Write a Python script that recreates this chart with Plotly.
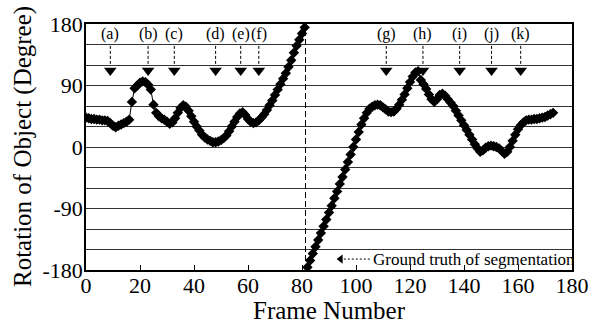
import plotly.graph_objects as go

# ---------------- data ----------------
frame_start = 0
rotation_deg = [
    # frames 0-16
    43, 42, 41, 41, 40, 40, 39, 39, 38, 35, 31, 29, 31, 33, 35, 37, 40,
    # 17-31
    66, 86, 90, 94, 96, 95, 91, 84, 62, 50, 45, 42, 40, 37, 34,
    # 32-47
    36, 42, 50, 57, 61, 59, 53, 45, 37, 30, 24, 18, 14, 11, 9, 7,
    # 48-61
    7, 8, 10, 13, 17, 23, 30, 37, 44, 49, 51, 47, 41, 37,
    # 62-81
    35, 36, 39, 43, 48, 54, 61, 68, 76, 84, 92, 100, 108, 117, 127, 138, 148, 157, 166, 175,
    # 82-99
    -176, -166, -156, -146, -136, -126, -116, -106, -96, -86, -75, -65, -54, -44, -33, -22, -11, 0,
    # 100-112
    11, 22, 33, 42, 50, 56, 59, 61, 62, 61, 58, 55, 52,
    # 113-123
    51, 52, 56, 62, 69, 77, 86, 95, 103, 109, 111,
    # 124-146
    98, 92, 85, 77, 70, 66, 70, 76, 78, 75, 70, 65, 60, 53, 46, 39, 32, 25, 18, 11, 4, -2, -7,
    # 147-157
    -5, -1, 1, 2, 1, 0, -2, -6, -10, -7, 0,
    # 158-173
    9, 18, 26, 32, 36, 39, 40, 40, 41, 41, 42, 43, 44, 46, 48, 50,
]
frames = list(range(frame_start, frame_start + len(rotation_deg)))

segmentation_frame = 81.3          # ground truth of segmentation
event_labels = ["(a)", "(b)", "(c)", "(d)", "(e)", "(f)", "(g)", "(h)", "(i)", "(j)", "(k)"]
event_frames = [9, 23, 32.7, 48, 57.3, 64, 111.2, 124.8, 138.4, 150.2, 161]

x_ticks = list(range(0, 181, 20))
y_grid = list(range(-180, 181, 30))
y_labels = {-180: "-180", -90: "-90", 0: "0", 90: "90", 180: "180"}

FONT = "Liberation Serif, Times New Roman, serif"

# split the wrapped series at the segmentation frame (no connecting line across the wrap)
fx, fy = [], []
for f, v in zip(frames, rotation_deg):
    if fx and fx[-1] is not None and fx[-1] < segmentation_frame <= f:
        fx.append(None)
        fy.append(None)
    fx.append(f)
    fy.append(v)

fig = go.Figure()

fig.add_trace(go.Scatter(
    x=fx, y=fy, mode="lines+markers",
    line=dict(color="black", width=1),
    marker=dict(symbol="diamond", size=8, color="black"),
    connectgaps=False, showlegend=False, hoverinfo="skip",
))

# event arrows: dashed stems + triangle heads
label_y, stem_top, stem_bot, head_y = 166, 148, 121, 112
shapes = []
for f in event_frames:
    shapes.append(dict(type="line", xref="x", yref="y", x0=f, x1=f, y0=stem_top, y1=stem_bot,
                       line=dict(color="black", width=1, dash="3px,2px")))
fig.add_trace(go.Scatter(
    x=event_frames, y=[head_y] * len(event_frames), mode="markers",
    marker=dict(symbol="triangle-down", size=11, color="black"),
    showlegend=False, hoverinfo="skip",
))

# ground-truth segmentation line
shapes.append(dict(type="line", xref="x", yref="y", x0=segmentation_frame, x1=segmentation_frame,
                   y0=-180, y1=180, line=dict(color="black", width=1, dash="6px,3px")))

# legend (arrow + dotted line + text) in the lower right
leg_y = -164
shapes.append(dict(type="line", xref="x", yref="y", x0=95.5, x1=105.2, y0=leg_y, y1=leg_y,
                   line=dict(color="black", width=1, dash="2px,2px")))
fig.add_trace(go.Scatter(
    x=[94.3], y=[leg_y], mode="markers",
    marker=dict(symbol="triangle-left", size=8, color="black"),
    showlegend=False, hoverinfo="skip",
))

annotations = []
for lab, f in zip(event_labels, event_frames):
    annotations.append(dict(x=f, y=label_y, xref="x", yref="y", text=lab, showarrow=False,
                            font=dict(family=FONT, size=16, color="black")))
annotations.append(dict(x=105.4, y=leg_y, xref="x", yref="y", text="Ground truth of segmentation",
                        showarrow=False, xanchor="left", yanchor="middle",
                        font=dict(family=FONT, size=17, color="black")))
# axis titles
annotations.append(dict(x=0.5, y=0, xref="paper", yref="paper", text="Frame Number",
                        showarrow=False, xanchor="center", yanchor="top", yshift=-25,
                        font=dict(family=FONT, size=25, color="black")))
annotations.append(dict(x=0, y=0.5, xref="paper", yref="paper", text="Rotation of Object (Degree)",
                        showarrow=False, xanchor="center", yanchor="middle", xshift=-63,
                        textangle=-90, font=dict(family=FONT, size=25, color="black")))

fig.update_layout(
    width=601, height=324,
    margin=dict(l=86, r=21, t=20, b=54),
    paper_bgcolor="white", plot_bgcolor="white",
    shapes=shapes, annotations=annotations,
    font=dict(family=FONT, color="black"),
    showlegend=False,
)
fig.update_xaxes(
    range=[0, 180], tickvals=x_ticks, ticktext=[str(v) for v in x_ticks],
    ticks="inside", ticklen=5, tickwidth=1, tickcolor="black",
    showline=True, linecolor="black", linewidth=1.5, mirror=True,
    showgrid=False, zeroline=False, ticklabelstandoff=-5,
    tickfont=dict(family=FONT, size=22, color="black"),
)
fig.update_yaxes(
    range=[-180, 180], tickvals=y_grid, ticktext=[y_labels.get(v, "") for v in y_grid],
    ticks="", ticklen=0, showline=True, linecolor="black", linewidth=1.5, mirror=True,
    showgrid=True, gridcolor="#333333", gridwidth=1, zeroline=False, ticklabelstandoff=-3,
    tickfont=dict(family=FONT, size=22, color="black"),
)

fig.write_html(
    "out.html",
    config={"displayModeBar": False},
    post_script="document.body.style.margin='0';document.body.style.overflow='hidden';",
)
